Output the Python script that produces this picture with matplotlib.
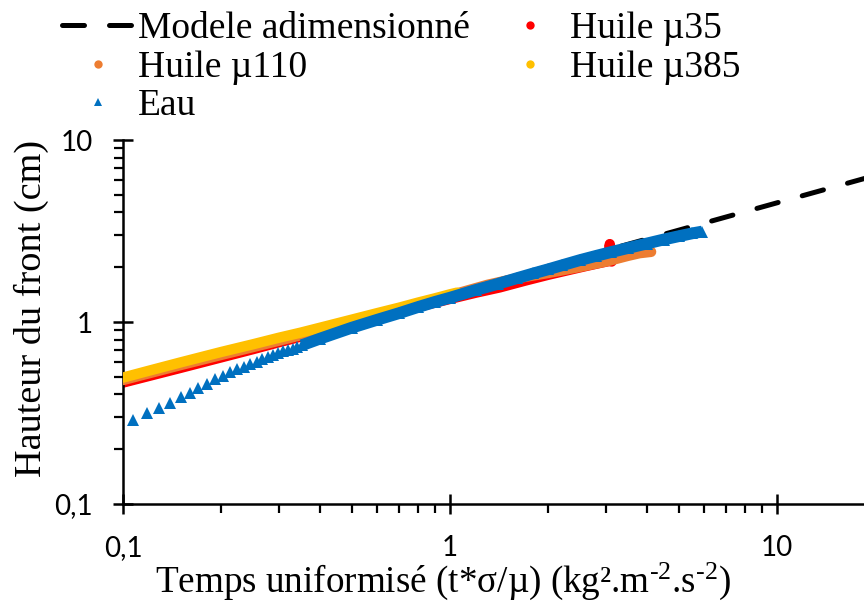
import matplotlib
matplotlib.use("Agg")
import matplotlib.pyplot as plt
from matplotlib.lines import Line2D
from matplotlib.ticker import FixedLocator, FixedFormatter, LogLocator, NullFormatter

RED    = "#FF0000"
ORANGE = "#ED7D31"
YELLOW = "#FFC000"
BLUE   = "#0070C0"
BLACK  = "#000000"
SERIF  = "Liberation Serif"

plt.rcParams.update({
    "font.family": "Lato",
    "mathtext.fontset": "custom",
    "mathtext.rm": SERIF,
    "mathtext.it": SERIF + ":italic",
})

# ── Données ───────────────────────────────────────────────────────────────────
modele_t = [0.1, 20]
modele_h = [0.452, 6.39]

huile35_t = [0.1, 0.15, 0.2, 0.25, 0.3, 0.4, 0.5, 0.6, 0.7, 0.87, 1.0, 1.2,
             1.42, 1.7, 2.0, 2.33, 2.6, 2.9, 3.05, 3.08, 3.12]
huile35_h = [0.465, 0.56, 0.64, 0.71, 0.775, 0.885, 0.98, 1.065, 1.14, 1.26, 1.34, 1.45,
             1.55, 1.69, 1.82, 1.94, 2.03, 2.12, 2.16, 2.68, 2.15]

huile110_t = [0.1, 0.15, 0.2, 0.3, 0.4, 0.5, 0.7, 1.0, 1.3, 1.6, 2.0, 2.5,
              3.0, 3.5, 3.8, 4.12]
huile110_h = [0.48, 0.58, 0.66, 0.79, 0.90, 0.99, 1.16, 1.40, 1.60, 1.74, 1.86, 2.01,
              2.15, 2.31, 2.39, 2.43]

huile385_t = [0.1, 0.12, 0.15, 0.2, 0.25, 0.3, 0.35, 0.4, 0.5, 0.6, 0.7, 0.8,
              0.9, 1.0, 1.05]
huile385_h = [0.495, 0.54, 0.60, 0.685, 0.755, 0.82, 0.875, 0.93, 1.03, 1.12, 1.20, 1.28,
              1.35, 1.42, 1.45]

eau_t = [0.107, 0.118, 0.129, 0.139, 0.150, 0.160, 0.170, 0.181, 0.191, 0.202,
         0.212, 0.223, 0.234, 0.245, 0.256, 0.266, 0.277, 0.288, 0.298, 0.309,
         0.320, 0.330, 0.341, 0.352, 0.40, 0.5, 0.6, 0.7, 0.8, 0.9,
         1.0, 1.2, 1.4, 1.6, 1.8, 2.0, 2.2, 2.5, 2.8, 3.1,
         3.5, 4.0, 4.5, 5.0, 5.5, 5.9]
eau_h = [0.29, 0.316, 0.337, 0.36, 0.385, 0.407, 0.432, 0.458, 0.485, 0.508,
         0.53, 0.55, 0.567, 0.588, 0.603, 0.624, 0.64, 0.657, 0.672, 0.69,
         0.70, 0.715, 0.73, 0.745, 0.81, 0.93, 1.03, 1.12, 1.21, 1.29,
         1.36, 1.50, 1.62, 1.74, 1.85, 1.95, 2.05, 2.19, 2.31, 2.42,
         2.55, 2.70, 2.84, 2.96, 3.07, 3.14]
eau_dense = 23  # à partir d'ici les triangles se recouvrent

x_ticks = [0.1, 1, 10]
x_labels = ["0,1", "1", "10"]
y_ticks = [0.1, 1, 10]
y_labels = ["0,1", "1", "10"]

# ── Figure ────────────────────────────────────────────────────────────────────
fig = plt.figure(figsize=(8.64, 6.01), dpi=100)
ax = fig.add_axes([0.1424, 0.1614, 0.8576, 0.6056])
ax.set_xscale("log")
ax.set_yscale("log")

DASH = (4.4, 5.0)
ax.plot(modele_t, modele_h, color=BLACK, lw=3.6, dashes=DASH,
        dash_capstyle="round", zorder=1)

LW = 7.5
for t, h, c, z in [(huile35_t, huile35_h, RED, 2),
                   (huile110_t, huile110_h, ORANGE, 3),
                   (huile385_t, huile385_h, YELLOW, 4)]:
    ax.plot(t, h, color=c, lw=LW, solid_capstyle="round",
            solid_joinstyle="round", zorder=z)

ax.plot(eau_t[eau_dense:], eau_h[eau_dense:], color=BLUE, lw=8.5,
        solid_capstyle="butt", zorder=5)
ax.plot(eau_t, eau_h, "^", color=BLUE, ms=8, mew=0, zorder=5)

ax.set_xlim(0.1, 18.45)
ax.set_ylim(0.1, 10)

for axis, ticks, labels in [(ax.xaxis, x_ticks, x_labels), (ax.yaxis, y_ticks, y_labels)]:
    axis.set_major_locator(FixedLocator(ticks))
    axis.set_major_formatter(FixedFormatter(labels))
    axis.set_minor_locator(LogLocator(base=10, subs=range(2, 10)))
    axis.set_minor_formatter(NullFormatter())

ax.tick_params(which="major", direction="inout", length=14, width=1.8,
               labelsize=20, color=BLACK)
ax.tick_params(axis="x", which="major", pad=15)
ax.tick_params(axis="y", which="major", pad=15)
ax.tick_params(which="minor", direction="out", length=6.5, width=1.6, color=BLACK)

for s in ["top", "right"]:
    ax.spines[s].set_visible(False)
for s in ["left", "bottom"]:
    ax.spines[s].set_linewidth(1.8)

ax.set_xlabel(r"Temps uniformisé (t*σ/µ) (kg².m$^{\text{-2}}$.s$^{\text{-2}}$)",
              family=SERIF, fontsize=26.7)
ax.xaxis.set_label_coords(0.432, -0.155)
ax.set_ylabel("Hauteur du front (cm)", family=SERIF, fontsize=27.5)
ax.yaxis.set_label_coords(-0.1, 0.536)

handles = [
    Line2D([], [], color=BLACK, lw=3.6, dashes=DASH, dash_capstyle="round"),
    Line2D([], [], ls="none", marker="o", color=ORANGE, ms=6, mew=0),
    Line2D([], [], ls="none", marker="^", color=BLUE, ms=6, mew=0),
    Line2D([], [], ls="none", marker="o", color=RED, ms=6, mew=0),
    Line2D([], [], ls="none", marker="o", color=YELLOW, ms=6, mew=0),
]
labels = ["Modele adimensionné", "Huile µ110", "Eau", "Huile µ35", "Huile µ385"]
fig.legend(handles, labels, loc="upper left", bbox_to_anchor=(62 / 864, 1 - 12 / 601),
           ncol=2, frameon=False, borderpad=0, borderaxespad=0,
           handlelength=1.9, handletextpad=0.12, columnspacing=0.65,
           labelspacing=0.1, prop={"family": SERIF, "size": 27})

fig.savefig("out.png", dpi=100)
